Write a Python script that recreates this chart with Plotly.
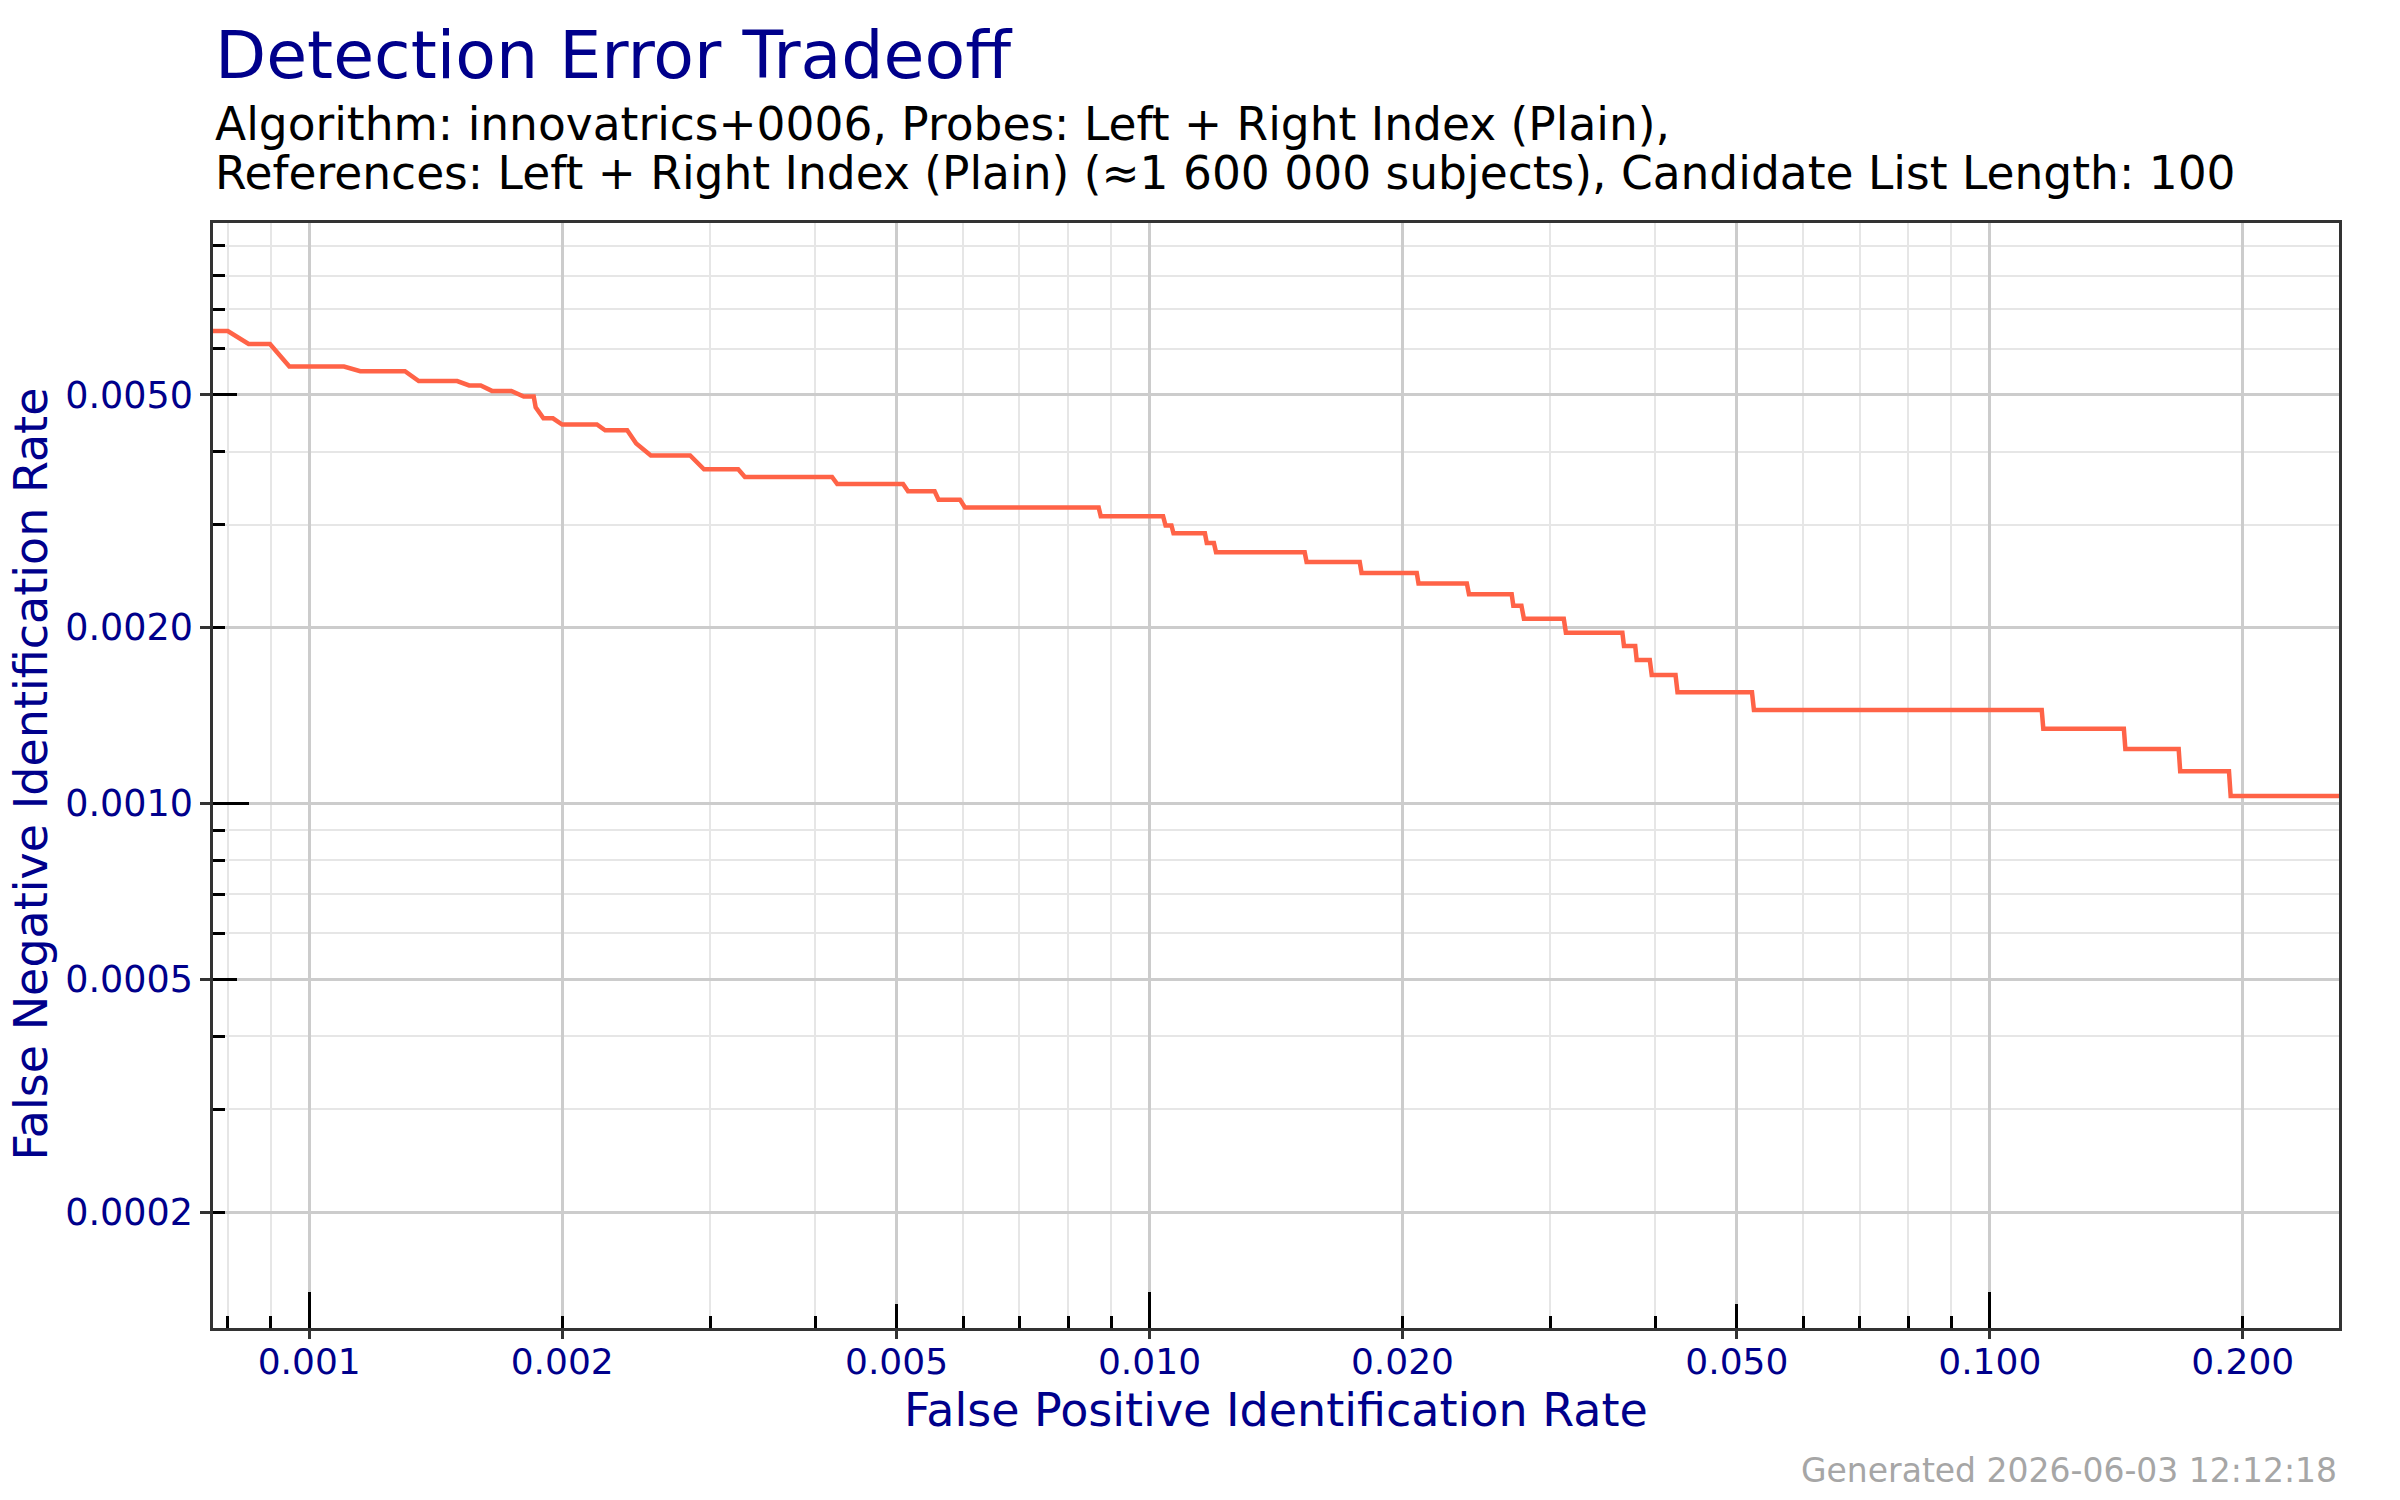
import plotly.graph_objects as go

# ---- data ----
fpir = [0.00075, 0.00080, 0.000847, 0.000898, 0.000947, 0.00110, 0.00115, 0.00130, 0.00135,
        0.00150, 0.00155, 0.00160, 0.00165, 0.00174, 0.00180, 0.00185, 0.00186, 0.00190,
        0.00195, 0.00200, 0.00220, 0.00225, 0.00239, 0.00245, 0.00255, 0.00284, 0.00295,
        0.00324, 0.00330, 0.00419, 0.00425, 0.00509, 0.00516, 0.00555, 0.00561, 0.00595,
        0.00603, 0.00870, 0.00875, 0.01038, 0.01045, 0.01062, 0.01068, 0.01164, 0.01170,
        0.01193, 0.01200, 0.01530, 0.01538, 0.01779, 0.01788, 0.0208, 0.0209, 0.02386,
        0.0240, 0.02698, 0.0271, 0.02771, 0.0279, 0.03112, 0.0313, 0.03654, 0.0367,
        0.03785, 0.0380, 0.03939, 0.0396, 0.04227, 0.0425, 0.05212, 0.0524, 0.1153,
        0.1158, 0.1444, 0.1450, 0.1678, 0.1685, 0.1926, 0.1935, 0.27]
fnir = [0.00643, 0.00643, 0.00611, 0.00611, 0.00559, 0.00559, 0.00549, 0.00549, 0.00528,
        0.00528, 0.00519, 0.00519, 0.00508, 0.00508, 0.00497, 0.00497, 0.00476, 0.00456,
        0.00456, 0.00445, 0.00445, 0.00435, 0.00435, 0.00413, 0.00394, 0.00394, 0.00373,
        0.00373, 0.00362, 0.00362, 0.00352, 0.00352, 0.00342, 0.00342, 0.00331, 0.00331,
        0.00321, 0.00321, 0.00310, 0.00310, 0.00299, 0.00299, 0.00290, 0.00290, 0.00279,
        0.00279, 0.00269, 0.00269, 0.00259, 0.00259, 0.00248, 0.00248, 0.00238, 0.00238,
        0.00228, 0.00228, 0.00218, 0.00218, 0.00207, 0.00207, 0.00196, 0.00196, 0.00186,
        0.00186, 0.00176, 0.00176, 0.00166, 0.00166, 0.00155, 0.00155, 0.001446, 0.001446,
        0.001343, 0.001343, 0.001240, 0.001240, 0.001136, 0.001136, 0.001030, 0.001030]

x_tickvals = [0.001, 0.002, 0.005, 0.01, 0.02, 0.05, 0.1, 0.2]
x_ticktext = ["0.001", "0.002", "0.005", "0.010", "0.020", "0.050", "0.100", "0.200"]
x_decades = [0.001, 0.01, 0.1]
x_fives = [0.005, 0.05]
x_minor = [0.0008, 0.0009, 0.003, 0.004, 0.006, 0.007, 0.008, 0.009,
           0.03, 0.04, 0.06, 0.07, 0.08, 0.09]

y_tickvals = [0.0002, 0.0005, 0.001, 0.002, 0.005]
y_ticktext = ["0.0002", "0.0005", "0.0010", "0.0020", "0.0050"]
y_decades = [0.001]
y_fives = [0.0005, 0.005]
y_twos = [0.0002, 0.002]
y_minor = [0.0003, 0.0004, 0.0006, 0.0007, 0.0008, 0.0009,
           0.003, 0.004, 0.006, 0.007, 0.008, 0.009]

x_range = [-3.1145, -0.5844]
y_range = [-3.897, -2.007]

FONT = "DejaVu Sans"
NAVY = "#00008B"
LINE_COLOR = "#FF6347"

fig = go.Figure()
fig.add_trace(go.Scatter(x=fpir, y=fnir, mode="lines",
                         line=dict(color=LINE_COLOR, width=4.5),
                         showlegend=False, hoverinfo="skip"))

# empty helper traces so that the overlay tick axes get drawn
for xa, ya in [("x2", "y"), ("x3", "y"), ("x4", "y"), ("x", "y2"), ("x", "y3"), ("x", "y4")]:
    fig.add_trace(go.Scatter(x=[], y=[], xaxis=xa, yaxis=ya, mode="lines",
                             showlegend=False, hoverinfo="skip"))

minor_style = dict(ticks="inside", ticklen=12, tickwidth=3, tickcolor="black",
                   showgrid=True, gridcolor="#e6e6e6", gridwidth=1.5)

main_x = dict(
    type="log", range=x_range, autorange=False,
    tickmode="array", tickvals=x_tickvals, ticktext=x_ticktext,
    ticks="inside", ticklen=12, tickwidth=3, tickcolor="black",
    tickfont=dict(family=FONT, size=36, color=NAVY),
    showgrid=True, gridcolor="#cccccc", gridwidth=2.5,
    showline=True, linecolor="#333333", linewidth=2.5, mirror=True,
    zeroline=False,
    minor=dict(tickmode="array", tickvals=x_minor, **minor_style),
)
main_y = dict(
    type="log", range=y_range, autorange=False,
    tickmode="array", tickvals=y_tickvals, ticktext=y_ticktext,
    ticks="outside", ticklen=10, tickwidth=3, tickcolor="#333333",
    tickfont=dict(family=FONT, size=36.5, color=NAVY),
    showgrid=True, gridcolor="#cccccc", gridwidth=2.5,
    showline=True, linecolor="#333333", linewidth=2.5, mirror=True,
    zeroline=False,
    minor=dict(tickmode="array", tickvals=y_minor, **minor_style),
)


def overlay_x(vals, length, ticks="inside", color="black"):
    return dict(type="log", range=x_range, autorange=False, overlaying="x", anchor="y",
                side="bottom", tickmode="array", tickvals=vals, ticks=ticks,
                ticklen=length, tickwidth=3, tickcolor=color, showticklabels=False,
                showgrid=False, showline=False, zeroline=False)


def overlay_y(vals, length):
    return dict(type="log", range=y_range, autorange=False, overlaying="y", anchor="x",
                side="left", tickmode="array", tickvals=vals, ticks="inside",
                ticklen=length, tickwidth=3, tickcolor="black", showticklabels=False,
                showgrid=False, showline=False, zeroline=False)


fig.update_layout(
    width=2400, height=1500, autosize=False,
    margin=dict(l=213, r=61, t=223, b=172),
    paper_bgcolor="white", plot_bgcolor="white",
    font=dict(family=FONT),
    xaxis=main_x, yaxis=main_y,
    xaxis2=overlay_x(x_decades, 36),
    xaxis3=overlay_x(x_fives, 24),
    xaxis4=overlay_x(x_tickvals, 10, ticks="outside", color="#333333"),
    yaxis2=overlay_y(y_decades, 36),
    yaxis3=overlay_y(y_fives, 24),
    yaxis4=overlay_y(y_twos, 12),
    showlegend=False,
)

annotations = [
    dict(text="Detection Error Tradeoff", x=0, y=1.152, xref="paper", yref="paper",
         xanchor="left", yanchor="middle", showarrow=False,
         font=dict(family=FONT, size=66.5, color=NAVY)),
    dict(text="Algorithm: innovatrics+0006, Probes: Left + Right Index (Plain),",
         x=0, y=1.0895, xref="paper", yref="paper", xanchor="left", yanchor="middle",
         showarrow=False, font=dict(family=FONT, size=45.5, color="black")),
    dict(text="References: Left + Right Index (Plain) (≈1 600 000 subjects), Candidate List Length: 100",
         x=0, y=1.0445, xref="paper", yref="paper", xanchor="left", yanchor="middle",
         showarrow=False, font=dict(family=FONT, size=45.5, color="black")),
    dict(text="False Positive Identification Rate", x=0.5, y=-0.0742, xref="paper", yref="paper",
         xanchor="center", yanchor="middle", showarrow=False,
         font=dict(family=FONT, size=46, color=NAVY)),
    dict(text="False Negative Identification Rate", x=-0.0856, y=0.501, xref="paper", yref="paper",
         xanchor="center", yanchor="middle", textangle=-90, showarrow=False,
         font=dict(family=FONT, size=46, color=NAVY)),
    dict(text="Generated 2026-06-03 12:12:18", x=1, y=-0.129, xref="paper", yref="paper",
         xanchor="right", yanchor="middle", showarrow=False,
         font=dict(family=FONT, size=33, color="#a6a6a6")),
]
fig.update_layout(annotations=annotations)

fig.write_html("out.html")
